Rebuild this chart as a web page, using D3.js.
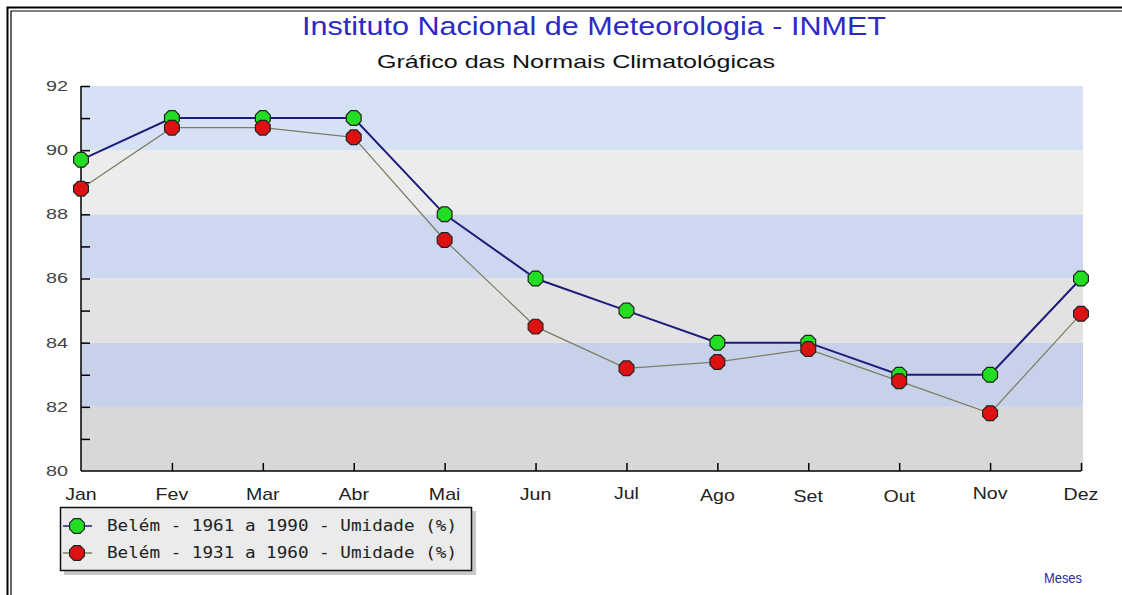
<!DOCTYPE html>
<html lang="pt">
<head>
<meta charset="UTF-8">
<title>Normais Climatológicas - Belém</title>
<script src="https://d3js.org/d3.v7.min.js"></script>
<style>
  body { margin: 0; background: #fff; }
  svg { display: block; }
</style>
</head>
<body>
<div id="chart"></div>
<script>
// data
const months = ["Jan", "Fev", "Mar", "Abr", "Mai", "Jun", "Jul", "Ago", "Set", "Out", "Nov", "Dez"];
const umidade1961 = [89.7, 91, 91, 91, 88, 86, 85, 84, 84, 83, 83, 86];
const umidade1931 = [88.8, 90.7, 90.7, 90.4, 87.2, 84.5, 83.2, 83.4, 83.8, 82.8, 81.8, 84.9];
const yTicks = [80, 82, 84, 86, 88, 90, 92];
const seriesNames = ["Belém - 1961 a 1990 - Umidade (%)", "Belém - 1931 a 1960 - Umidade (%)"];

const width = 1122, height = 595;
const margin = { top: 86, right: 41, bottom: 124, left: 81 };
const sans = "Liberation Sans, Arial, sans-serif";

const svg = d3.select("#chart").append("svg")
  .attr("width", width)
  .attr("height", height);

// the source picture is stretched sideways, so widen text to match
function stretch(sel, k) {
  sel.each(function () {
    this.setAttribute("textLength", this.getComputedTextLength() * k);
    this.setAttribute("lengthAdjust", "spacingAndGlyphs");
  });
}

// double frame
svg.append("path")
  .attr("d", `M7.5,${height + 5} V7.5 H${width + 5}`)
  .attr("fill", "none").attr("stroke", "#000").attr("stroke-width", 2);
svg.append("path")
  .attr("d", `M11,${height + 5} V11 H${width + 5}`)
  .attr("fill", "none").attr("stroke", "#000").attr("stroke-width", 1.2);

const x = d3.scalePoint().domain(months).range([margin.left, width - margin.right]);
const y = d3.scaleLinear().domain([80, 92]).range([height - margin.bottom, margin.top]);

// horizontal bands, alternating blue / grey, darker going down
const bandColors = ["#d8d8d8", "#c7d1ea", "#e2e2e2", "#cdd7ef", "#ececec", "#d7e1f6"];
svg.append("g").selectAll("rect")
  .data(d3.range(6))
  .join("rect")
  .attr("x", margin.left)
  .attr("width", width - margin.right - margin.left + 2)
  .attr("y", i => y(yTicks[i + 1]))
  .attr("height", i => y(yTicks[i]) - y(yTicks[i + 1]))
  .attr("fill", i => bandColors[i]);

// titles
svg.append("text")
  .attr("x", 594).attr("y", 35)
  .attr("text-anchor", "middle")
  .attr("font-family", sans)
  .attr("font-size", 25)
  .attr("fill", "#2b2bc4")
  .attr("textLength", 584)
  .attr("lengthAdjust", "spacingAndGlyphs")
  .text("Instituto Nacional de Meteorologia - INMET");
svg.append("text")
  .attr("x", 576).attr("y", 68)
  .attr("text-anchor", "middle")
  .attr("font-family", sans)
  .attr("font-size", 19)
  .attr("fill", "#111")
  .attr("textLength", 398)
  .attr("lengthAdjust", "spacingAndGlyphs")
  .text("Gráfico das Normais Climatológicas");

// y axis (ticks point inward)
const yAxis = svg.append("g")
  .attr("transform", `translate(${margin.left},0)`)
  .call(d3.axisRight(y).tickValues(d3.range(80, 93, 1)).tickSize(9).tickFormat(""));
yAxis.select(".domain").attr("stroke", "#000").attr("stroke-width", 1.5).attr("d", `M0,${y(80)}V${y(92)}`);
yAxis.selectAll(".tick line").attr("stroke", "#000").attr("stroke-width", 1.5);
yAxis.selectAll(".tick").filter(d => d === 80).select("line").remove();

svg.append("g").selectAll("text")
  .data(yTicks)
  .join("text")
  .attr("x", 68)
  .attr("y", d => y(d))
  .attr("dy", "0.35em")
  .attr("text-anchor", "end")
  .attr("font-family", sans)
  .attr("font-size", 14)
  .attr("fill", "#444")
  .attr("textLength", 22)
  .attr("lengthAdjust", "spacingAndGlyphs")
  .text(d => d);

// x axis (ticks point up)
const xAxis = svg.append("g")
  .attr("transform", `translate(0,${y(80)})`)
  .call(d3.axisTop(x).tickSize(8).tickFormat(""));
xAxis.select(".domain").attr("stroke", "#000").attr("stroke-width", 1.5).attr("d", `M${margin.left},0H${width - margin.right}`);
xAxis.selectAll(".tick line").attr("stroke", "#000").attr("stroke-width", 1.5);
xAxis.selectAll(".tick").filter(d => d === "Jan").select("line").remove();

const labelDy = [0, 0, 0, 0, 0, 0, -1, 1, 2, 2, -1, 0];
svg.append("g").selectAll("text")
  .data(months)
  .join("text")
  .attr("x", d => x(d))
  .attr("y", (d, i) => 500 + labelDy[i])
  .attr("text-anchor", "middle")
  .attr("font-family", sans)
  .attr("font-size", 17)
  .attr("fill", "#222")
  .text(d => d)
  .call(stretch, 1.15);

// series lines
const line = vals => d3.line().x((d, i) => x(months[i])).y(d => y(d))(vals);
svg.append("path")
  .attr("d", line(umidade1931))
  .attr("fill", "none").attr("stroke", "#7c7c62").attr("stroke-width", 1.2);
svg.append("path")
  .attr("d", line(umidade1961))
  .attr("fill", "none").attr("stroke", "#1c1c7a").attr("stroke-width", 2);

// octagon markers
const octagon = r => d3.range(8).map(k => {
  const a = Math.PI / 8 + k * Math.PI / 4;
  return [r * Math.cos(a), r * Math.sin(a)];
});
const marker = (g, fill) => g.append("polygon")
  .attr("points", octagon(8).map(p => p.join(",")).join(" "))
  .attr("fill", fill).attr("stroke", "#222").attr("stroke-width", 1.2);

[[umidade1961, "#22dd22"], [umidade1931, "#dd1111"]].forEach(([vals, col]) => {
  svg.append("g").selectAll("g")
    .data(vals)
    .join("g")
    .attr("transform", (d, i) => `translate(${x(months[i])},${y(d)})`)
    .each(function () { marker(d3.select(this), col); });
});

// legend
const legend = svg.append("g");
legend.append("rect")
  .attr("x", 64).attr("y", 511).attr("width", 412).attr("height", 64)
  .attr("fill", "#c8c8c8");
legend.append("rect")
  .attr("x", 60.5).attr("y", 507.5).attr("width", 411).attr("height", 63)
  .attr("fill", "#ebebeb").attr("stroke", "#111").attr("stroke-width", 1.5);

const legendItems = [
  { name: seriesNames[0], fill: "#22dd22", stroke: "#1c1c7a" },
  { name: seriesNames[1], fill: "#dd1111", stroke: "#7c7c62" }
];
legendItems.forEach((it, i) => {
  const cy = 526 + i * 27;
  legend.append("line")
    .attr("x1", 63).attr("x2", 92).attr("y1", cy).attr("y2", cy)
    .attr("stroke", it.stroke).attr("stroke-width", 1.5);
  marker(legend.append("g").attr("transform", `translate(77,${cy})`), it.fill);
  legend.append("text")
    .attr("x", 107).attr("y", cy)
    .attr("dy", "0.35em")
    .attr("font-family", "DejaVu Sans Mono, monospace")
    .attr("font-size", 15)
    .attr("fill", "#222")
    .attr("textLength", 350)
    .attr("lengthAdjust", "spacingAndGlyphs")
    .text(it.name);
});

// x axis title
svg.append("text")
  .attr("x", 1082).attr("y", 583)
  .attr("text-anchor", "end")
  .attr("font-family", sans)
  .attr("font-size", 14)
  .attr("fill", "#2a2a9a")
  .attr("textLength", 38)
  .attr("lengthAdjust", "spacingAndGlyphs")
  .text("Meses");
</script>
</body>
</html>
